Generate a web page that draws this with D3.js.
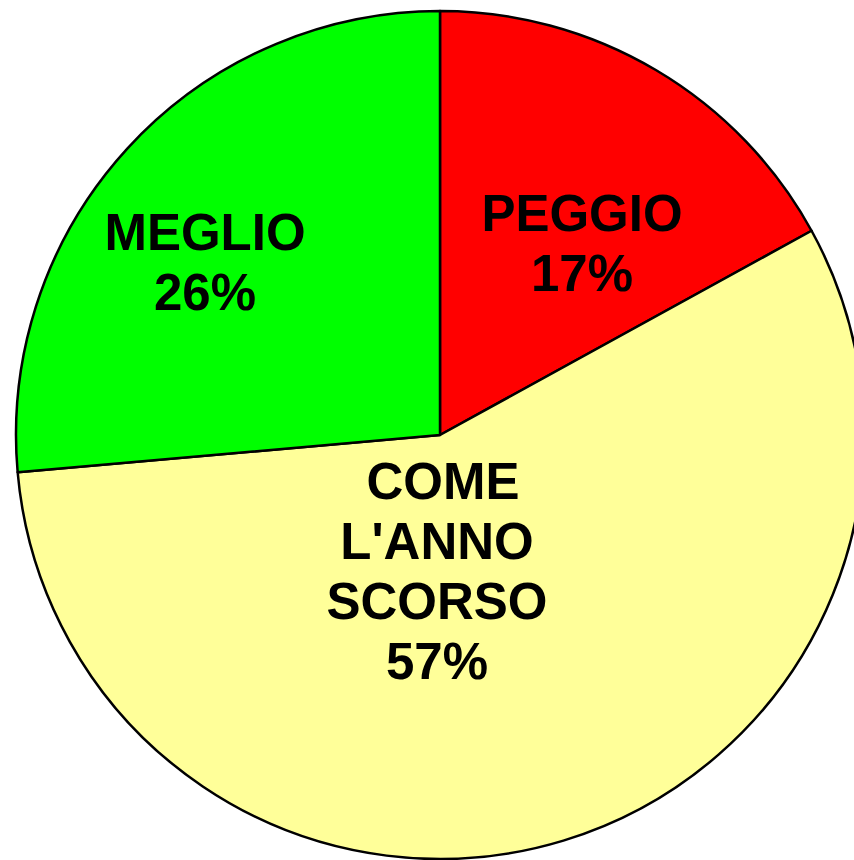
<!DOCTYPE html>
<html>
<head>
<meta charset="utf-8">
<script src="https://cdn.jsdelivr.net/npm/d3@7"></script>
<style>
  html, body { margin: 0; padding: 0; background: #fff; }
  svg { display: block; }
</style>
</head>
<body>
<div id="chart"></div>
<script>
const categories = ["PEGGIO", "COME L'ANNO SCORSO", "MEGLIO"];
const values = [17, 56.6, 26.4];
const nameLines = [["PEGGIO"], ["COME", "L'ANNO", "SCORSO"], ["MEGLIO"]];
const colors = ["#ff0000", "#ffff99", "#00ff00"];

// layout (label centres relative to pie centre, picked by eye)
const labelOffsets = [[142, -192], [-3, 136], [-235, -173]];

const width = 854, height = 860;
const cx = 440, cy = 435, radius = 424;
const lineHeight = 60;

const svg = d3.select("#chart")
  .append("svg")
    .attr("width", width)
    .attr("height", height);

const g = svg.append("g")
    .attr("transform", "translate(" + cx + "," + cy + ")");

const pie = d3.pie()
    .sort(null)
    .value(d => d);

const arc = d3.arc()
    .innerRadius(0)
    .outerRadius(radius);

const arcs = pie(values);

g.selectAll("path")
  .data(arcs)
  .enter()
  .append("path")
    .attr("d", arc)
    .attr("fill", (d, i) => colors[i])
    .attr("stroke", "#000")
    .attr("stroke-width", 2.5)
    .attr("stroke-linejoin", "round");

// labels
const labels = g.selectAll("text.lbl")
  .data(arcs)
  .enter()
  .append("text")
    .attr("class", "lbl")
    .attr("text-anchor", "middle")
    .style("font-family", "'Liberation Sans', Arial, sans-serif")
    .style("font-weight", "bold")
    .style("font-size", "51px")
    .attr("fill", "#000");

labels.each(function(d, i) {
  const lines = nameLines[i].concat([Math.round(values[i]) + "%"]);
  const [ox, oy] = labelOffsets[i];
  const top = oy - (lines.length - 1) * lineHeight / 2;
  d3.select(this).selectAll("tspan")
    .data(lines)
    .enter()
    .append("tspan")
      .attr("x", (t, j) => ox + (i === 1 && j === 0 ? 6 : 0))
      .attr("y", (t, j) => top + j * lineHeight)
      .attr("dy", "0.35em")
      .text(t => t);
});
</script>
</body>
</html>
